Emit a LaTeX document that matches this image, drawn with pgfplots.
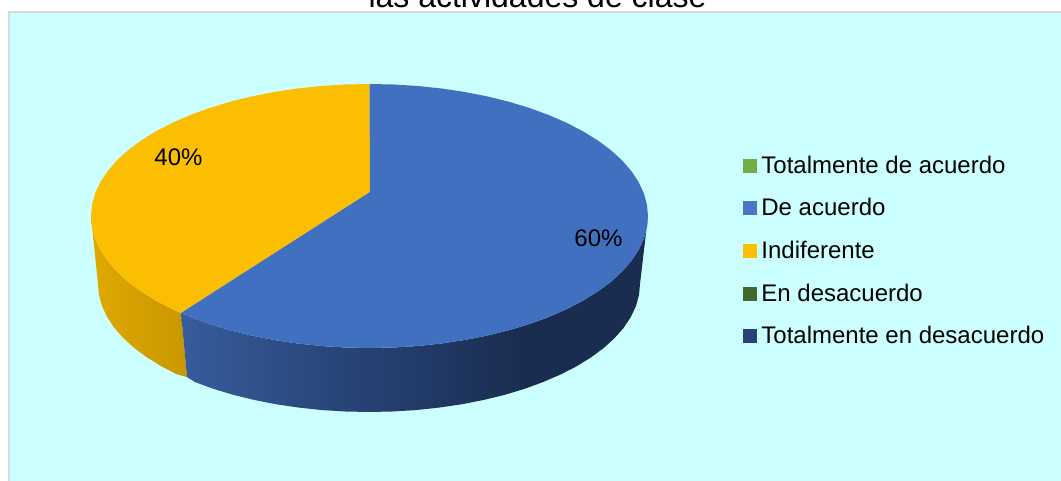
\documentclass[border=0pt]{standalone}
\usepackage{fontspec}
\setmainfont{Liberation Sans}
\usepackage{pgfplots}
\pgfplotsset{compat=1.18}
\definecolor{panel}{HTML}{CCFFFF}
\definecolor{frameg}{HTML}{D9D9D9}
\definecolor{topblue}{HTML}{4170C0}
\definecolor{topyellow}{HTML}{FCBE00}
\definecolor{sb1}{HTML}{375C9C}
\definecolor{sb2}{HTML}{2C4B82}
\definecolor{sb3}{HTML}{223B69}
\definecolor{sb4}{HTML}{1A2C50}
\definecolor{sy1}{HTML}{E0A900}
\definecolor{sy2}{HTML}{C99700}
\pgfdeclarehorizontalshading{sideblue}{100bp}{color(0bp)=(sb1); color(25bp)=(sb1); color(37bp)=(sb2); color(50bp)=(sb3); color(62bp)=(sb4); color(75bp)=(sb4); color(100bp)=(sb4)}
\begin{document}
\begin{tikzpicture}
\path[use as bounding box] (0,0) rectangle (1061pt,481pt);
\clip (0,0) rectangle (1061pt,481pt);
\begin{axis}[
  at={(0,0)}, anchor=south west,
  scale only axis, width=1061pt, height=481pt,
  xmin=0, xmax=1061, ymin=0, ymax=481, y dir=reverse,
  axis lines=none, clip=true,
  legend image code/.code={\fill[#1] (0pt,-6.5pt) rectangle (13pt,6.5pt);},
  legend style={at={(axis cs:743,156)}, anchor=north west, draw=none, fill=none,
    inner sep=0pt, outer sep=0pt, row sep=23.7pt, font=\fontsize{24}{27.6}\selectfont,
    nodes={inner sep=0pt, outer sep=0pt}},
  legend cell align=left,
]
% panel
\addplot[fill=panel, draw=frameg, line width=2pt, forget plot] coordinates {(9,12) (1075,12) (1075,495) (9,495)} -- cycle;
% yellow side
\addplot[draw=none, left color=sy1, right color=sy2, forget plot] coordinates {
(91,216) (92.1,227.5) (95.2,238.9) (100.5,250.2) (107.8,261.1) (117.1,271.8) (128.3,282) (141.4,291.7) (156.2,300.8) (172.6,309.3) (181,313)
(187,377) (177.4,374.5) (161.4,366.3) (147,357.4) (134.3,348) (123.4,338.1) (114.3,327.8) (107.2,317.1) (102.1,306.2) (99,295.2) (98,284)} -- cycle;
% blue side
\addplot[draw=none, shade, shading=sideblue, forget plot] coordinates {
(181,313) (190.5,317.1) (209.8,324.1) (230.2,330.3) (251.8,335.6) (274.3,340) (297.4,343.5) (321.2,346) (345.2,347.5) (369.5,348) (393.8,347.5) (417.8,346) (441.6,343.5) (464.7,340) (487.2,335.6) (508.8,330.3) (529.2,324.1) (548.5,317.1) (566.4,309.3) (582.8,300.8) (597.6,291.7) (610.7,282) (621.9,271.8) (631.2,261.1) (638.5,250.2) (643.8,238.9) (646.9,227.5) (648,216)
(640,284) (639,295.2) (635.9,306.2) (630.8,317.1) (623.7,327.8) (614.6,338.1) (603.7,348) (591,357.4) (576.6,366.3) (560.6,374.5) (543.2,382) (524.4,388.9) (504.5,394.9) (483.5,400) (461.7,404.3) (439.1,407.6) (416,410.1) (392.6,411.5) (369,412) (345.4,411.5) (322,410.1) (298.9,407.6) (276.3,404.3) (254.5,400) (233.5,394.9) (213.6,388.9) (194.8,382) (187,377)} -- cycle;
% yellow top: 40 %
\addplot[fill=topyellow, draw=none, forget plot] coordinates {
(370,192) (369.5,84) (345.2,84.5) (321.2,86) (297.4,88.5) (274.3,92) (251.8,96.4) (230.2,101.7) (209.8,107.9) (190.5,114.9) (172.6,122.7) (156.2,131.2) (141.4,140.3) (128.3,150) (117.1,160.2) (107.8,170.9) (100.5,181.8) (95.2,193.1) (92.1,204.5) (91,216) (92.1,227.5) (95.2,238.9) (100.5,250.2) (107.8,261.1) (117.1,271.8) (128.3,282) (141.4,291.7) (156.2,300.8) (172.6,309.3) (181,313)} -- cycle;
% blue top: 60 %
\addplot[fill=topblue, draw=none, forget plot] coordinates {
(370,192) (181,313) (190.5,317.1) (209.8,324.1) (230.2,330.3) (251.8,335.6) (274.3,340) (297.4,343.5) (321.2,346) (345.2,347.5) (369.5,348) (393.8,347.5) (417.8,346) (441.6,343.5) (464.7,340) (487.2,335.6) (508.8,330.3) (529.2,324.1) (548.5,317.1) (566.4,309.3) (582.8,300.8) (597.6,291.7) (610.7,282) (621.9,271.8) (631.2,261.1) (638.5,250.2) (643.8,238.9) (646.9,227.5) (648,216) (646.9,204.5) (643.8,193.1) (638.5,181.8) (631.2,170.9) (621.9,160.2) (610.7,150) (597.6,140.3) (582.8,131.2) (566.4,122.7) (548.5,114.9) (529.2,107.9) (508.8,101.7) (487.2,96.4) (464.7,92) (441.6,88.5) (417.8,86) (393.8,84.5) (369.5,84)} -- cycle;
% legend
\addlegendimage{fill=black!0, color={rgb,255:red,112;green,173;blue,71}}
\addlegendentry{\hspace{5pt}Totalmente de acuerdo}
\addlegendimage{color=topblue!95!white}
\addlegendentry{\hspace{5pt}De acuerdo}
\addlegendimage{color=topyellow}
\addlegendentry{\hspace{5pt}Indiferente}
\addlegendimage{color={rgb,255:red,67;green,104;blue,43}}
\addlegendentry{\hspace{5pt}En desacuerdo}
\addlegendimage{color={rgb,255:red,38;green,68;blue,120}}
\addlegendentry{\hspace{5pt}Totalmente en desacuerdo}
\node[font=\fontsize{24}{27.6}\selectfont, text=black] at (axis cs:598.5,238) {60\%};
\node[font=\fontsize{24}{27.6}\selectfont, text=black] at (axis cs:178.5,157) {40\%};
\node[font=\fontsize{32}{36}\selectfont, text=black, anchor=base] at (axis cs:537.5,8) {las actividades de clase};
\end{axis}
\end{tikzpicture}
\end{document}
